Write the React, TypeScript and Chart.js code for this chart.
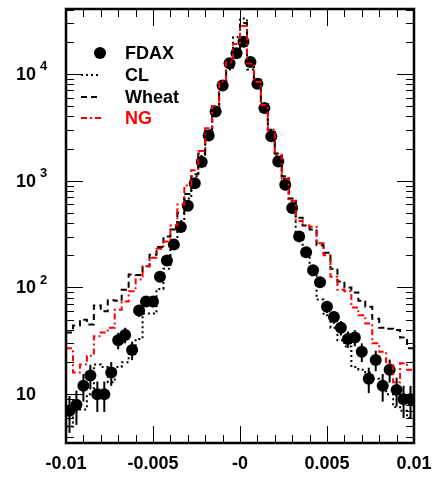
import React, { useEffect, useRef } from "react";
import { Chart, registerables } from "chart.js";
Chart.register(...registerables);

// ---- data ----
const xRange = [-0.01, 0.01];
const nBins = 50;

const fdax = [7, 8, 12, 15, 10, 10, 16, 32, 36, 26, 61, 74, 74, 126, 179, 252, 369, 583, 944, 1496,
  2650, 4450, 7780, 12600, 15600, 20000, 12900, 8070, 4780, 2600, 1514, 918, 556, 301, 214, 145, 112, 66, 53, 42,
  33, 34, 25, 14, 21, 12, 17, 11, 9, 9];

const cl = [5, 7, 7.2, 10, 19, 18, 13, 18, 20, 25, 33, 57, 57, 97, 150, 260, 420, 680, 1100, 1700,
  2900, 4800, 8000, 11000, 22000, 33000, 11000, 8500, 5000, 2900, 1700, 1050, 650, 330, 200, 130, 77, 55, 42, 32,
  28, 18, 17, 16, 14, 12, 10, 7.6, 7, 6];

const wheat = [38, 44, 50, 45, 68, 60, 76, 75, 95, 132, 131, 158, 203, 240, 300, 350, 500, 750, 1150, 1800,
  3000, 4900, 8200, 12000, 17000, 30000, 13500, 8800, 5200, 3000, 1800, 1100, 680, 450, 380, 350, 248, 212, 150, 114,
  100, 90, 75, 66, 51, 42, 41, 40, 34, 27];

const ng = [27, 16, 19, 23, 35, 38, 42, 62, 74, 92, 119, 158, 190, 230, 270, 380, 600, 900, 1250, 1900,
  3100, 5000, 8500, 13000, 19000, 28000, 12500, 8400, 5100, 3000, 1750, 1050, 650, 420, 380, 370, 260, 200, 126, 95,
  92, 65, 55, 46, 30, 25, 19.5, 13, 19.5, 17];

const xTickValues = [-0.01, -0.005, 0, 0.005, 0.01];
const xTickLabels = ["-0.01", "-0.005", "-0", "0.005", "0.01"];
const xMinorStep = 0.001;
const yTickValues = [10, 100, 1000, 10000];
const yTickExponents = ["", "2", "3", "4"];
const yRange = [3.5, 40500];
const legendLabels = ["FDAX", "CL", "Wheat", "NG"];
const legendColors = ["#000", "#000", "#000", "#ff0000"];

const FONT = '"Liberation Sans", Arial, Helvetica, sans-serif';

const binWidth = (xRange[1] - xRange[0]) / nBins;
const centers = fdax.map((_, i) => xRange[0] + (i + 0.5) * binWidth);
const histPoints = (vals: number[]) => {
  const pts = vals.map((v, i) => ({ x: xRange[0] + i * binWidth, y: v }));
  pts.push({ x: xRange[1], y: vals[vals.length - 1] });
  return pts;
};

const styles = {
  cl: { color: "#000", dash: [2, 3] },
  wheat: { color: "#000", dash: [6, 4] },
  ng: { color: "#ff0000", dash: [6, 3, 2, 3] },
};

const errorBarPlugin = {
  id: "errorBars",
  beforeDatasetsDraw(chart: any) {
    const { ctx, chartArea: a, scales } = chart;
    const x = scales.x, y = scales.y;
    ctx.save();
    ctx.beginPath();
    ctx.rect(a.left, a.top, a.right - a.left, a.bottom - a.top);
    ctx.clip();
    ctx.strokeStyle = "#000";
    ctx.lineWidth = 2;
    fdax.forEach((v, i) => {
      const e = Math.sqrt(v);
      const px = x.getPixelForValue(centers[i]);
      const lo = Math.max(v - e, 0.01);
      ctx.beginPath();
      ctx.moveTo(px, y.getPixelForValue(v + e));
      ctx.lineTo(px, y.getPixelForValue(lo));
      ctx.stroke();
    });
    ctx.restore();
  },
};

const framePlugin = {
  id: "frame",
  afterDraw(chart: any) {
    const { ctx, chartArea: a, scales } = chart;
    const x = scales.x, y = scales.y;
    ctx.save();
    // ticks
    ctx.strokeStyle = "#000";
    ctx.lineWidth = 1;
    ctx.setLineDash([]);
    const nMinor = Math.round((xRange[1] - xRange[0]) / xMinorStep);
    for (let k = 0; k <= nMinor; k++) {
      const v = xRange[0] + k * xMinorStep;
      const major = xTickValues.some((t) => Math.abs(t - v) < 1e-9);
      const len = major ? 17 : 8;
      const px = Math.round(x.getPixelForValue(v)) + 0.5;
      ctx.beginPath();
      ctx.moveTo(px, a.bottom);
      ctx.lineTo(px, a.bottom - len);
      ctx.moveTo(px, a.top);
      ctx.lineTo(px, a.top + len);
      ctx.stroke();
    }
    for (let d = 1; d <= 10000; d *= 10) {
      for (let m = 1; m <= 9; m++) {
        const v = d * m;
        if (v < yRange[0] || v > yRange[1]) continue;
        const len = m === 1 ? 17 : 8;
        const py = Math.round(y.getPixelForValue(v)) + 0.5;
        ctx.beginPath();
        ctx.moveTo(a.left, py);
        ctx.lineTo(a.left + len, py);
        ctx.moveTo(a.right, py);
        ctx.lineTo(a.right - len, py);
        ctx.stroke();
      }
    }
    // frame
    ctx.lineWidth = 2.5;
    ctx.strokeRect(a.left, a.top, a.right - a.left, a.bottom - a.top);

    // x labels
    ctx.fillStyle = "#000";
    ctx.font = `bold 18px ${FONT}`;
    ctx.textAlign = "center";
    ctx.textBaseline = "middle";
    xTickValues.forEach((v, i) => {
      ctx.fillText(xTickLabels[i], x.getPixelForValue(v), a.bottom + 21);
    });
    // y labels
    yTickValues.forEach((v, i) => {
      const py = y.getPixelForValue(v);
      ctx.font = `bold 18px ${FONT}`;
      ctx.textAlign = "right";
      ctx.fillText("10", 36, py + 1);
      if (yTickExponents[i]) {
        ctx.font = `bold 13px ${FONT}`;
        ctx.textAlign = "left";
        ctx.fillText(yTickExponents[i], 40, py - 7);
      }
    });

    // legend
    const rows = [53, 75, 97, 118];
    const lx0 = 81, lx1 = 101, tx = 125;
    ctx.beginPath();
    ctx.arc(100, rows[0], 6, 0, Math.PI * 2);
    ctx.fillStyle = "#000";
    ctx.fill();
    const lineStyles = [styles.cl, styles.wheat, styles.ng];
    lineStyles.forEach((s, k) => {
      ctx.strokeStyle = s.color;
      ctx.lineWidth = 2;
      ctx.setLineDash(s.dash);
      ctx.beginPath();
      ctx.moveTo(lx0, rows[k + 1]);
      ctx.lineTo(lx1, rows[k + 1]);
      ctx.stroke();
    });
    ctx.setLineDash([]);
    ctx.font = `bold 18px ${FONT}`;
    ctx.textAlign = "left";
    ctx.textBaseline = "middle";
    legendLabels.forEach((t, k) => {
      ctx.fillStyle = legendColors[k];
      ctx.fillText(t, tx, rows[k] + 1);
    });
    ctx.restore();
  },
};

export default function App() {
  const ref = useRef<HTMLCanvasElement>(null);
  useEffect(() => {
    if (!ref.current) return;
    const lineDs = (label: string, vals: number[], s: { color: string; dash: number[] }, order: number) => ({
      label,
      data: histPoints(vals),
      stepped: "before",
      borderColor: s.color,
      borderWidth: 2,
      borderDash: s.dash,
      pointRadius: 0,
      fill: false,
      order,
      clip: 0,
    });
    const chart = new Chart(ref.current, {
      type: "line",
      data: {
        datasets: [
          lineDs("NG", ng, styles.ng, 1),
          lineDs("Wheat", wheat, styles.wheat, 2),
          lineDs("CL", cl, styles.cl, 3),
          {
            label: "FDAX",
            data: fdax.map((v, i) => ({ x: centers[i], y: v })),
            showLine: false,
            pointRadius: 6,
            pointBackgroundColor: "#000",
            pointBorderWidth: 0,
            pointBorderColor: "#000",
            order: 4,
            clip: 0,
          } as any,
        ],
      },
      options: {
        animation: false,
        responsive: false,
        maintainAspectRatio: false,
        events: [],
        layout: { padding: { left: 66, right: 20, top: 9, bottom: 34 } },
        plugins: { legend: { display: false }, tooltip: { enabled: false } },
        scales: {
          x: { type: "linear", min: xRange[0], max: xRange[1], display: false },
          y: { type: "logarithmic", min: yRange[0], max: yRange[1], display: false },
        },
      } as any,
      plugins: [errorBarPlugin, framePlugin],
    } as any);
    return () => chart.destroy();
  }, []);
  return (
    <div style={{ position: "fixed", left: 0, top: 0, width: 434, height: 477, background: "#fff" }}>
      <canvas ref={ref} width={434} height={477} style={{ display: "block" }} />
    </div>
  );
}
